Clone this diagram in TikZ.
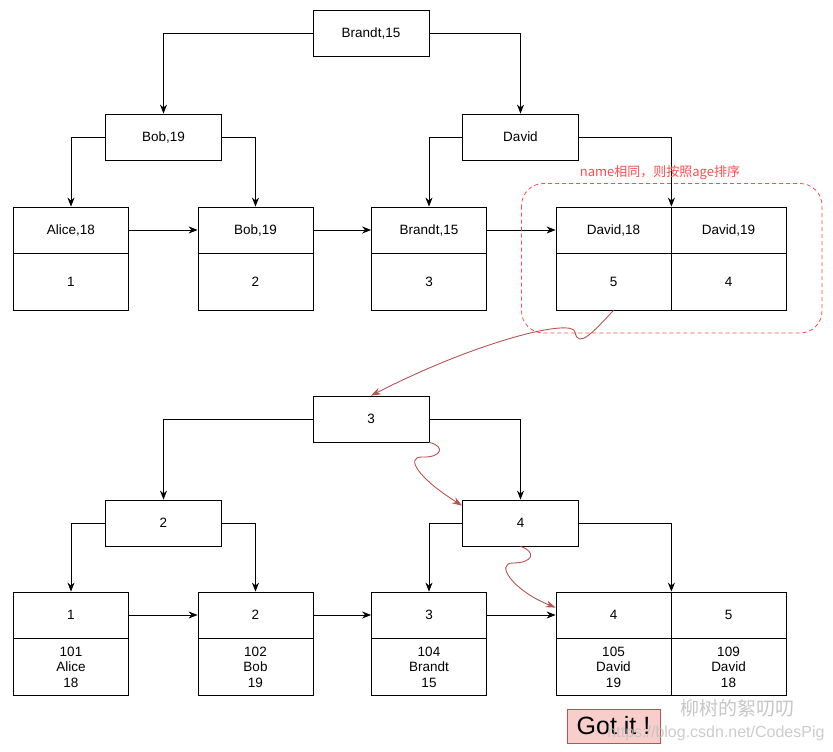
\documentclass[tikz,border=0pt]{standalone}
\usepackage{fontspec}
\setmainfont{Liberation Sans}
\newfontfamily\cjk{Noto Sans CJK SC}
\usetikzlibrary{arrows.meta}
\definecolor{curvered}{HTML}{B85450}
\definecolor{dashred}{HTML}{FF4D4D}
\definecolor{gotfill}{HTML}{F8CECC}
\tikzset{
	inner/.style = {draw, line width = 0.8pt, minimum width = 116pt, minimum height = 46pt, inner sep = 0pt},
	keycell/.style = {draw, line width = 0.8pt, minimum width = 115pt, minimum height = 46pt, inner sep = 0pt},
	valcell/.style = {draw, line width = 0.8pt, minimum width = 115pt, minimum height = 57pt, inner sep = 0pt, align = center},
	arr/.style = {line width = 0.8pt, -{Stealth[length = 9pt, width = 7pt]}},
	redarr/.style = {line width = 0.9pt, curvered, -{Stealth[length = 10pt, width = 7pt]}}
}
\begin{document}
\begin{tikzpicture}[x = 1pt, y = -1pt, font = \fontsize{13.5}{15.5}\selectfont]
						\useasboundingbox (0, 0) rectangle (833, 752);
						\node[inner] (rt) at (371, 33) {Brandt,15};
						\node[inner] (bob) at (163.5, 137) {Bob,19};
						\node[inner] (dav) at (520.5, 137) {David};
							\node[keycell] (a1) at (71, 230) {Alice,18};
							\node[valcell] (v1) at (71, 281.5) {1};
							\node[keycell] (a2) at (255.5, 230) {Bob,19};
							\node[valcell] (v2) at (255.5, 281.5) {2};
							\node[keycell] (a3) at (429, 230) {Brandt,15};
							\node[valcell] (v3) at (429, 281.5) {3};
							\node[keycell] (a4) at (613.5, 230) {David,18};
							\node[valcell] (v4) at (613.5, 281.5) {5};
							\node[keycell] (a5) at (728.5, 230) {David,19};
							\node[valcell] (v5) at (728.5, 281.5) {4};
						\draw[arr] (rt.west) -| (bob.north);
						\draw[arr] (rt.east) -| (dav.north);
						\draw[arr] (bob.west) -| (a1.north);
						\draw[arr] (bob.east) -| (a2.north);
						\draw[arr] (dav.west) -| (a3.north);
						\draw[arr] (dav.east) -| (a4.north east);
						\draw[arr] (a1.east) -- (a2.west);
						\draw[arr] (a2.east) -- (a3.west);
						\draw[arr] (a3.east) -- (a4.west);
						\draw[dashred, line width = 0.8pt, dash pattern = on 4pt off 3pt, rounded corners = 22pt] (521.5, 183.5) rectangle (822, 333);
							\node[dashred, font = \cjk\fontsize{13}{15}\selectfont] (note) at (660, 173) {name相同，则按照age排序};
						\node[inner] (r2) at (371, 419) {3};
						\node[inner] (n2) at (163.5, 523) {2};
						\node[inner] (n4) at (520.5, 523) {4};
							\node[keycell] (b1) at (71, 615) {1};
							\node[valcell] (w1) at (71, 667) {101\\Alice\\18};
							\node[keycell] (b2) at (255.5, 615) {2};
							\node[valcell] (w2) at (255.5, 667) {102\\Bob\\19};
							\node[keycell] (b3) at (429, 615) {3};
							\node[valcell] (w3) at (429, 667) {104\\Brandt\\15};
							\node[keycell] (b4) at (613.5, 615) {4};
							\node[valcell] (w4) at (613.5, 667) {105\\David\\19};
							\node[keycell] (b5) at (728.5, 615) {5};
							\node[valcell] (w5) at (728.5, 667) {109\\David\\18};
						\draw[arr] (r2.west) -| (n2.north);
						\draw[arr] (r2.east) -| (n4.north);
						\draw[arr] (n2.west) -| (b1.north);
						\draw[arr] (n2.east) -| (b2.north);
						\draw[arr] (n4.west) -| (b3.north);
						\draw[arr] (n4.east) -| (b4.north east);
						\draw[arr] (b1.east) -- (b2.west);
						\draw[arr] (b2.east) -- (b3.west);
						\draw[arr] (b3.east) -- (b4.west);
						\draw[redarr] (v4.south) .. controls (595, 330) and (578, 350) .. (575, 332) .. controls (573, 318) and (480, 340) .. (r2.north);
						\draw[redarr] (r2.south east) .. controls (447, 447) and (440, 458) .. (422, 457) .. controls (405, 457) and (418, 478) .. ([yshift = -6pt]n4.north west);
						\draw[redarr] (n4.south) .. controls (537, 552) and (533, 563) .. (513, 563) .. controls (495, 563) and (512, 590) .. ([yshift = -16pt]b4.north west);
						\node[draw = curvered, fill = gotfill, line width = 0.8pt, minimum width = 93pt, minimum height = 34pt, inner sep = 0pt, font = \fontsize{25}{28}\selectfont] (got) at (613.5, 726) {Got it !};
						\node[gray!45, font = \cjk\fontsize{19}{21}\selectfont] (wm) at (737, 708) {柳树的絮叨叨};
						\node[gray!50, opacity = 0.8, font = \fontsize{16}{18}\selectfont] (url) at (716, 733) {https://blog.csdn.net/CodesPig};
					\end{tikzpicture}
\end{document}
